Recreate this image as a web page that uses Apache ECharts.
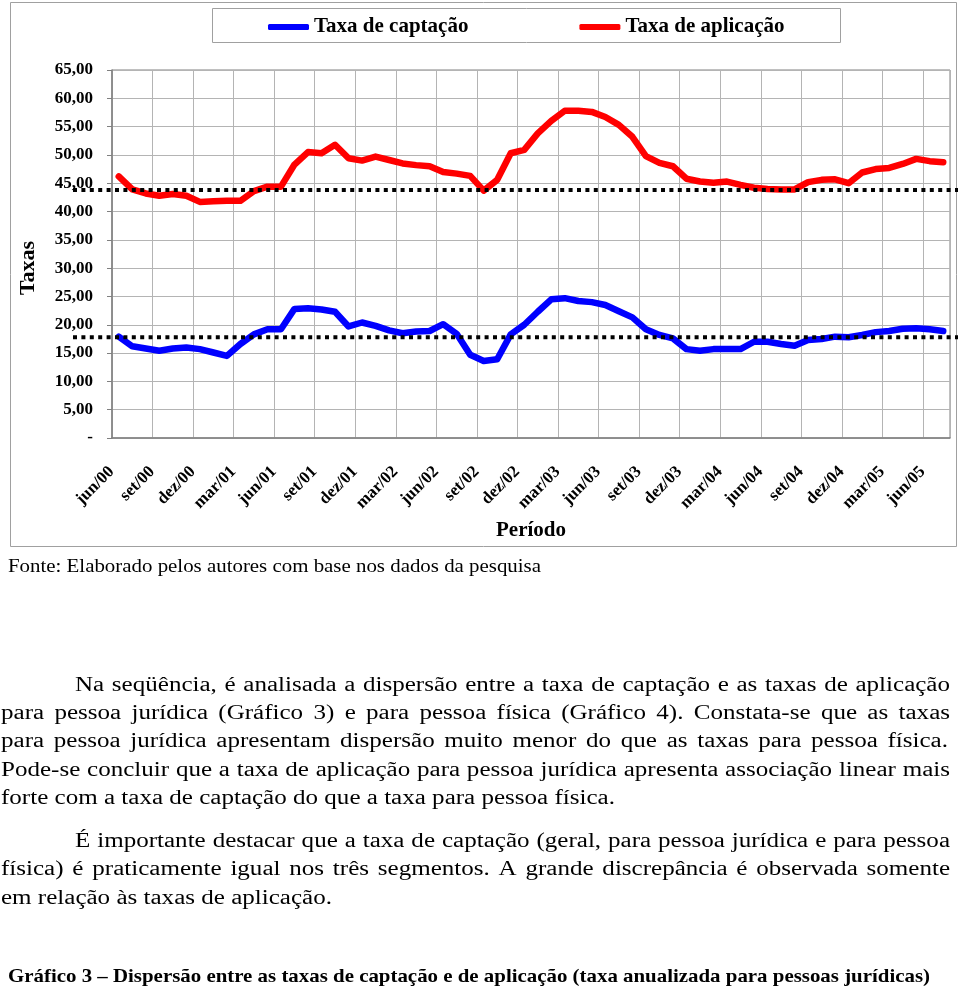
<!DOCTYPE html>
<html><head><meta charset="utf-8">
<script src="https://cdn.jsdelivr.net/npm/echarts@6/dist/echarts.min.js"></script>
<style>html,body{margin:0;padding:0;background:#fff}#c{width:960px;height:992px}</style>
</head><body><div id="c"></div><script>
const meses = ['jun/00','jul/00','ago/00','set/00','out/00','nov/00','dez/00',
'jan/01','fev/01','mar/01','abr/01','mai/01','jun/01','jul/01','ago/01','set/01','out/01','nov/01','dez/01',
'jan/02','fev/02','mar/02','abr/02','mai/02','jun/02','jul/02','ago/02','set/02','out/02','nov/02','dez/02',
'jan/03','fev/03','mar/03','abr/03','mai/03','jun/03','jul/03','ago/03','set/03','out/03','nov/03','dez/03',
'jan/04','fev/04','mar/04','abr/04','mai/04','jun/04','jul/04','ago/04','set/04','out/04','nov/04','dez/04',
'jan/05','fev/05','mar/05','abr/05','mai/05','jun/05','jul/05'];
const taxaCaptacao = [17.9,16.2,15.8,15.4,15.8,16.0,15.7,15.1,14.5,16.6,
18.3,19.2,19.2,22.8,22.9,22.7,22.3,19.7,20.4,19.8,
19.0,18.5,18.8,18.9,20.1,18.4,14.7,13.6,13.9,18.3,
20.0,22.3,24.5,24.7,24.2,24.0,23.5,22.4,21.3,19.2,
18.2,17.6,15.7,15.4,15.7,15.7,15.7,17.0,17.0,16.6,
16.3,17.3,17.5,17.9,17.8,18.2,18.7,18.9,19.3,19.4,
19.2,18.9];
const taxaAplicacao = [46.2,43.9,43.2,42.8,43.1,42.8,41.7,41.8,41.9,41.9,
43.6,44.4,44.4,48.3,50.5,50.3,51.8,49.4,49.0,49.7,
49.1,48.5,48.2,48.0,47.0,46.7,46.3,43.7,45.6,50.3,
50.9,53.8,56.0,57.8,57.8,57.6,56.7,55.3,53.2,49.8,
48.6,48.0,45.8,45.3,45.1,45.3,44.7,44.2,44.0,43.9,
43.9,45.2,45.6,45.7,45.0,46.9,47.5,47.7,48.4,49.3,
48.9,48.7];
const mediaCaptacao = [17.8, 17.8];
const mediaAplicacao = [43.8, 43.8];

const serif = '"Liberation Serif", "Times New Roman", serif';
const mctx = document.createElement('canvas').getContext('2d');
function measure(t, font){ mctx.font = font; return mctx.measureText(t).width; }
function txt(str, x, y, s, font){
  return {type:'text', x:x, y:y, scaleX:s, scaleY:1,
    style:{text:str, x:0, y:0, font:font, fill:'#000', textAlign:'left', textVerticalAlign:'middle', align:'left', verticalAlign:'middle'}};
}
function fitLine(str, x, y, width, font){
  return [txt(str, x, y, width / measure(str, font), font)];
}
function bodyLine(str, x, y, width, font, S, justify){
  const words = str.split(' ').filter(w => w.length);
  const ws = words.map(w => measure(w, font));
  const W = ws.reduce((a,b) => a + b, 0);
  const sp = measure(' ', font);
  let s = S, gap = sp * S;
  if (justify) {
    gap = (width - W * s) / (words.length - 1);
    if (gap < sp * 0.7) { s = width / (W + sp * 0.7 * (words.length - 1)); gap = sp * 0.7 * s; }
  }
  const els = [];
  let cx = x;
  words.forEach((w, i) => { els.push(txt(w, cx, y, s, font)); cx += ws[i] * s + gap; });
  return els;
}
const bodyFont = '20px ' + serif;
const L5 = 'forte com a taxa de captação do que a taxa para pessoa física.';
const S = 614 / measure(L5, bodyFont);
let graphics = [
  {type:'rect', shape:{x:10.5, y:2.5, width:946, height:544}, style:{fill:null, stroke:'#a0a0a0', lineWidth:1}, z:-1},
  {type:'rect', shape:{x:212.5, y:8.5, width:628, height:34}, style:{fill:null, stroke:'#a0a0a0', lineWidth:1}, z:-1}
];
graphics = graphics.concat(
  fitLine('Fonte: Elaborado pelos autores com base nos dados da pesquisa', 8, 567, 533, '19px ' + serif),
  bodyLine('Na seqüência, é analisada a dispersão entre a taxa de captação e as taxas de aplicação', 75, 686, 875, bodyFont, S, true),
  bodyLine('para pessoa jurídica (Gráfico 3)  e para pessoa física (Gráfico 4). Constata-se que as taxas', 1, 714, 949, bodyFont, S, true),
  bodyLine('para pessoa jurídica apresentam dispersão muito menor do que as taxas para pessoa física.', 1, 742, 947, bodyFont, S, true),
  bodyLine('Pode-se concluir que a taxa de aplicação para pessoa jurídica apresenta associação linear mais', 1, 771, 949, bodyFont, S, true),
  bodyLine(L5, 1, 799, 614, bodyFont, S, false),
  bodyLine('É importante destacar que a taxa de captação (geral, para pessoa jurídica e para pessoa', 75, 842, 875, bodyFont, S, true),
  bodyLine('física) é praticamente igual nos três segmentos. A grande discrepância é observada somente', 1, 870, 949, bodyFont, S, true),
  bodyLine('em relação às taxas de aplicação.', 1, 899, 330, bodyFont, S, false),
  fitLine('Gráfico 3 – Dispersão entre as taxas de captação e de aplicação (taxa anualizada para pessoas jurídicas)', 8, 977, 922, 'bold 19px ' + serif)
);

const chart = echarts.init(document.getElementById('c'), null, {renderer:'canvas'});
chart.setOption({
  animation: false,
  backgroundColor: '#fff',
  legend: {
    data: ['Taxa de captação', 'Taxa de aplicação'],
    left: 268, top: 15, padding: 0, itemGap: 111,
    icon: 'roundRect', itemWidth: 41, itemHeight: 6,
    textStyle: {fontFamily: serif, fontSize: 21, fontWeight: 'bold', color: '#000', lineHeight: 24}
  },
  grid: [
    {left: 112, right: 10, top: 70, height: 368, show: true, borderColor: '#808080', borderWidth: 1},
    {left: 73, right: 2, top: 70, height: 368}
  ],
  xAxis: [
    {type: 'category', data: meses, boundaryGap: true, gridIndex: 0,
     name: 'Período', nameLocation: 'middle', nameGap: 82,
     nameTextStyle: {fontFamily: serif, fontSize: 21, fontWeight: 'bold', color: '#000'},
     axisLine: {lineStyle: {color: '#808080', width: 1.5}},
     axisTick: {interval: 2, length: 5, lineStyle: {color: '#808080'}},
     splitLine: {show: true, interval: 2, lineStyle: {color: '#b4b4b4', width: 1}},
     axisLabel: {interval: 2, rotate: 45, margin: 24, padding: [0, 10, 0, 0],
       fontFamily: serif, fontSize: 17, fontWeight: 'bold', color: '#000'}},
    {type: 'value', gridIndex: 1, min: 0, max: 1, show: false}
  ],
  yAxis: [
    {type: 'value', gridIndex: 0, min: 0, max: 65, interval: 5,
     name: 'Taxas', nameLocation: 'middle', nameGap: 73,
     nameTextStyle: {fontFamily: serif, fontSize: 22, fontWeight: 'bold', color: '#000', padding: [0, 28, 0, 0]},
     axisLine: {show: true, lineStyle: {color: '#808080', width: 1.5}},
     axisTick: {show: true, length: 5, lineStyle: {color: '#808080'}},
     splitLine: {show: true, lineStyle: {color: '#b4b4b4', width: 1}},
     axisLabel: {margin: 19, fontFamily: serif, fontSize: 17, fontWeight: 'bold', color: '#000',
       formatter: v => (v === 0 ? '-' : v.toFixed(2).replace('.', ','))}},
    {type: 'value', gridIndex: 1, min: 0, max: 65, show: false}
  ],
  series: [
    {name: 'Taxa de captação', type: 'line', xAxisIndex: 0, yAxisIndex: 0, data: taxaCaptacao,
     symbol: 'none', color: '#0000ff', lineStyle: {width: 6.5, color: '#0000ff', join: 'round', cap: 'round'}, z: 3},
    {name: 'Taxa de aplicação', type: 'line', xAxisIndex: 0, yAxisIndex: 0, data: taxaAplicacao,
     symbol: 'none', color: '#ff0000', lineStyle: {width: 6.5, color: '#ff0000', join: 'round', cap: 'round'}, z: 3},
    {name: 'media captação', type: 'line', xAxisIndex: 1, yAxisIndex: 1,
     data: [[0, mediaCaptacao[0]], [1, mediaCaptacao[1]]], symbol: 'none',
     lineStyle: {width: 4, color: '#000', type: [4, 4.4], cap: 'butt'}, z: 5, silent: true},
    {name: 'media aplicação', type: 'line', xAxisIndex: 1, yAxisIndex: 1,
     data: [[0, mediaAplicacao[0]], [1, mediaAplicacao[1]]], symbol: 'none',
     lineStyle: {width: 4, color: '#000', type: [4, 4.4], cap: 'butt'}, z: 5, silent: true}
  ],
  graphic: graphics
});
</script></body></html>
